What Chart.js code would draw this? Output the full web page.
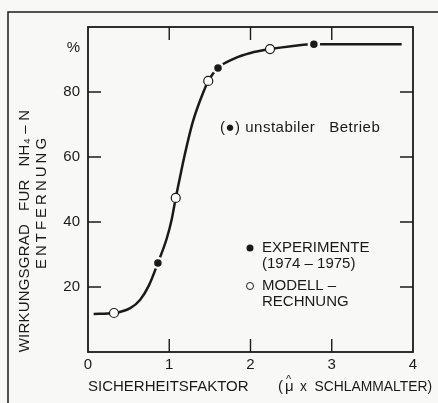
<!DOCTYPE html>
<html lang="de">
<head>
<meta charset="UTF-8">
<title>Wirkungsgrad NH4-N Entfernung</title>
<script src="https://cdn.jsdelivr.net/npm/chart.js"></script>
<style>
  html, body { margin: 0; padding: 0; background: #f8f8f6; }
  #wrap { width: 438px; height: 403px; }
</style>
</head>
<body>
<div id="wrap"><canvas id="chart" width="438" height="403"></canvas></div>
<script>
// curve (Sicherheitsfaktor, Wirkungsgrad %)
const curveX = [0.07, 0.32, 0.52, 0.64, 0.75, 0.86, 0.97, 1.03, 1.08, 1.12, 1.19, 1.29, 1.44, 1.48, 1.6, 1.8, 2.0, 2.24, 2.5, 2.78, 3.2, 3.86];
const curveY = [11.7, 12, 13.5, 16, 20.5, 27.4, 35, 40.8, 47.4, 52.3, 60.6, 70.8, 81.2, 83.4, 87.4, 90.3, 92, 93.2, 94.1, 94.7, 94.7, 94.7];
// Experimente (1974 - 1975), filled dots
const expX = [0.86, 1.6, 2.78];
const expY = [27.4, 87.4, 94.7];
// Modellrechnung, open dots
const modX = [0.32, 1.08, 1.48, 2.24];
const modY = [12, 47.4, 83.4, 93.2];
const xTicks = [0, 1, 2, 3, 4];
const yTicks = [20, 40, 60, 80];

const ink = '#1a1a1a';
const font = '"Liberation Sans", Arial, sans-serif';
const pts = (xs, ys) => xs.map((x, i) => ({ x: x, y: ys[i] }));

// frame, inward ticks and all the lettering
const decor = {
  id: 'decor',
  afterDraw(chart) {
    const c = chart.ctx, a = chart.chartArea;
    const xs = chart.scales.x, ys = chart.scales.y;
    c.save();
    c.strokeStyle = ink;
    c.fillStyle = ink;
    // outer figure frame (left and top only visible)
    c.lineWidth = 1.5;
    c.beginPath();
    c.moveTo(8, 403); c.lineTo(8, 12); c.lineTo(438, 12);
    c.stroke();
    // plot box
    c.lineWidth = 1.8;
    c.strokeRect(a.left, a.top, a.right - a.left, a.bottom - a.top);
    // inward ticks
    c.lineWidth = 1.4;
    c.beginPath();
    xTicks.slice(1, -1).forEach(v => {
      const px = xs.getPixelForValue(v);
      c.moveTo(px, a.top); c.lineTo(px, a.top + 13);
      c.moveTo(px, a.bottom); c.lineTo(px, a.bottom - 13);
    });
    yTicks.forEach(v => {
      const py = ys.getPixelForValue(v);
      c.moveTo(a.left, py); c.lineTo(a.left + 13, py);
      c.moveTo(a.right, py); c.lineTo(a.right - 13, py);
    });
    c.stroke();

    c.font = '15px ' + font;
    c.textBaseline = 'middle';
    c.textAlign = 'right';
    c.fillText('%', 80, 48);

    // x title
    c.textAlign = 'left';
    c.fillText('SICHERHEITSFAKTOR', 88, 387);
    c.fillText('(', 278, 387);
    c.fillText('\u03BC', 285, 387);
    c.font = '11px ' + font;
    c.fillText('^', 286, 380);
    c.font = '15px ' + font;
    c.fillText('x  SCHLAMMALTER)', 300, 387, 132);

    // annotation
    c.letterSpacing = '0.5px';
    c.fillText('(\u25CF) unstabiler   Betrieb', 220, 128);
    c.letterSpacing = '0px';

    // legend
    c.fillText('EXPERIMENTE', 262, 248);
    c.fillText('(1974 \u2013 1975)', 262, 264);
    c.fillText('MODELL \u2013', 262, 286);
    c.fillText('RECHNUNG', 262, 302);
    c.beginPath(); c.arc(250, 248, 3.5, 0, Math.PI * 2); c.fill();
    c.lineWidth = 1;
    c.beginPath(); c.arc(250, 286, 3.5, 0, Math.PI * 2);
    c.fillStyle = '#fff'; c.fill(); c.stroke();
    c.fillStyle = ink;

    // y title, two rotated lines
    c.translate(25, 231);
    c.rotate(-Math.PI / 2);
    c.textAlign = 'center';
    c.letterSpacing = '0.2px';
    c.fillText('WIRKUNGSGRAD   FUR   NH\u2084 \u2013 N', 0, 0);
    c.letterSpacing = '3px';
    c.fillText('ENTFERNUNG', 29, 17);
    c.restore();
  }
};

new Chart(document.getElementById('chart'), {
  type: 'scatter',
  data: {
    datasets: [
      {
        type: 'line',
        data: pts(curveX, curveY),
        borderColor: ink,
        borderWidth: 2.5,
        pointRadius: 0,
        cubicInterpolationMode: 'monotone',
        fill: false,
        order: 3
      },
      {
        data: pts(expX, expY),
        backgroundColor: ink,
        borderColor: '#f8f8f6',
        borderWidth: 2.5,
        pointRadius: 5,
        order: 1
      },
      {
        data: pts(modX, modY),
        backgroundColor: '#ffffff',
        borderColor: ink,
        borderWidth: 1.2,
        pointRadius: 4.5,
        order: 2
      }
    ]
  },
  options: {
    responsive: false,
    animation: false,
    events: [],
    layout: { padding: { left: 0, top: 27, right: 25, bottom: 0 } },
    plugins: { legend: { display: false }, tooltip: { enabled: false } },
    scales: {
      x: {
        type: 'linear', min: 0, max: 4,
        afterFit(s) { s.height = 51; },
        afterBuildTicks(s) { s.ticks = xTicks.map(v => ({ value: v })); },
        grid: { display: false, drawTicks: false },
        border: { display: false },
        ticks: { color: ink, font: { family: font, size: 15 }, padding: 4 }
      },
      y: {
        min: 0, max: 100,
        afterFit(s) { s.width = 88; },
        afterBuildTicks(s) { s.ticks = yTicks.map(v => ({ value: v })); },
        grid: { display: false, drawTicks: false },
        border: { display: false },
        ticks: { color: ink, font: { family: font, size: 15 }, padding: 8 }
      }
    }
  },
  plugins: [decor]
});
</script>
</body>
</html>
